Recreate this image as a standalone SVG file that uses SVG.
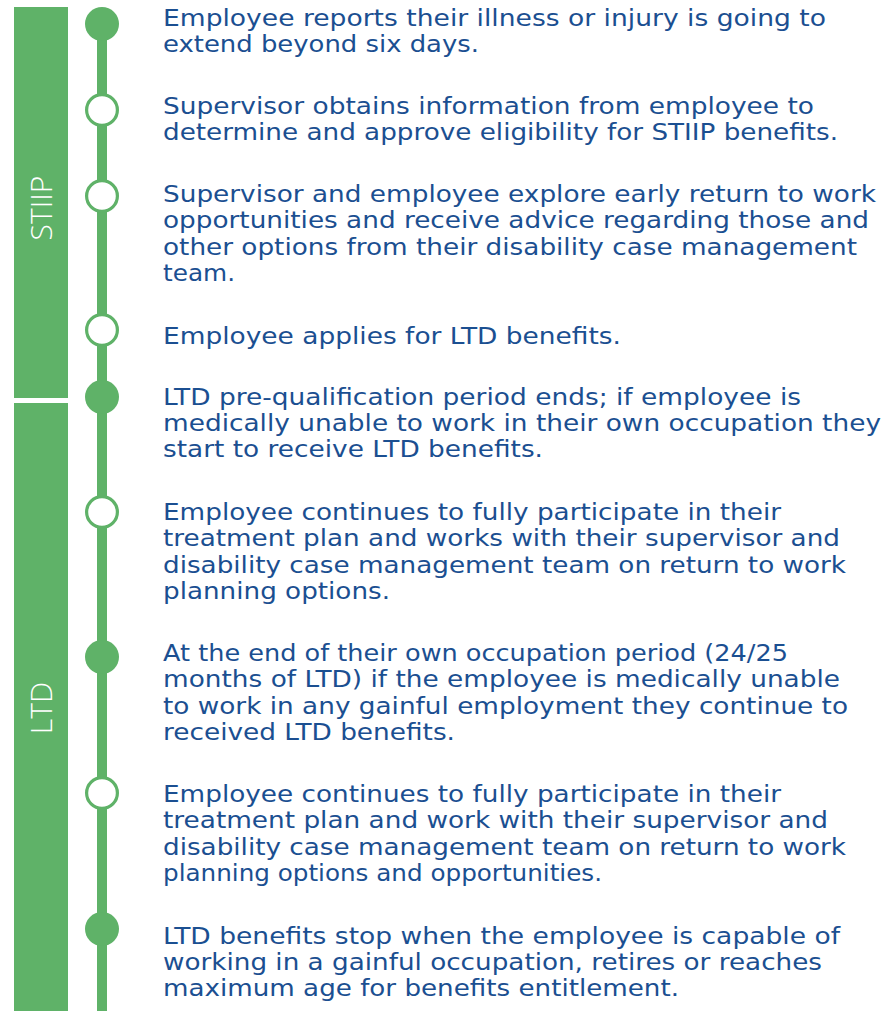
<svg xmlns="http://www.w3.org/2000/svg" width="886" height="1011" viewBox="0 0 886 1011">
<style>
.bar{fill:#5fb268}
.phase{font-family:"Open Sans","Liberation Sans",sans-serif;font-size:30px;font-weight:300;fill:#ffffff;text-anchor:middle}
.dot{fill:#5fb268}
.ring{fill:#ffffff;stroke:#5fb268;stroke-width:3.2}
.t{font-family:"DejaVu Sans","Liberation Sans",sans-serif;font-size:23px;fill:#1b4f91}
.spine{stroke:#5fb268;stroke-width:10;fill:none}
</style>
<rect width="886" height="1011" fill="#ffffff"/>
<g id="phase-stiip">
<rect class="bar" x="14" y="7" width="54" height="391"/>
<text class="phase" transform="translate(52,208) rotate(-90)">STIIP</text>
</g>
<g id="phase-ltd">
<rect class="bar" x="14" y="403" width="54" height="608"/>
<text class="phase" transform="translate(52,708) rotate(-90)">LTD</text>
</g>
<g id="connectors">
<line class="spine" x1="102" y1="20" x2="102" y2="1011"/>
</g>
<g id="step1">
<circle class="dot" cx="102" cy="24" r="17"/>
<text class="t" x="163" y="26" textLength="663" lengthAdjust="spacingAndGlyphs">Employee  reports their illness or injury is going to</text>
<text class="t" x="163" y="52" textLength="316" lengthAdjust="spacingAndGlyphs">extend beyond six days.</text>
</g>
<g id="step2">
<circle class="ring" cx="102" cy="110" r="15.4"/>
<text class="t" x="163" y="114" textLength="651" lengthAdjust="spacingAndGlyphs">Supervisor obtains information from employee to</text>
<text class="t" x="163" y="140" textLength="675" lengthAdjust="spacingAndGlyphs">determine and approve eligibility for STIIP benefits.</text>
</g>
<g id="step3">
<circle class="ring" cx="102" cy="196" r="15.4"/>
<text class="t" x="163" y="202" textLength="713" lengthAdjust="spacingAndGlyphs">Supervisor and employee explore early return to work</text>
<text class="t" x="163" y="228" textLength="706" lengthAdjust="spacingAndGlyphs">opportunities and receive advice regarding those and</text>
<text class="t" x="163" y="255" textLength="694" lengthAdjust="spacingAndGlyphs">other options from their disability case management</text>
<text class="t" x="163" y="281" textLength="72" lengthAdjust="spacingAndGlyphs">team.</text>
</g>
<g id="step4">
<circle class="ring" cx="102" cy="330" r="15.4"/>
<text class="t" x="163" y="344" textLength="458" lengthAdjust="spacingAndGlyphs">Employee applies for LTD benefits.</text>
</g>
<g id="step5">
<circle class="dot" cx="102" cy="397" r="17"/>
<text class="t" x="163" y="405" textLength="638" lengthAdjust="spacingAndGlyphs">LTD pre-qualification period ends; if employee is</text>
<text class="t" x="163" y="431" textLength="718" lengthAdjust="spacingAndGlyphs">medically unable to work in their own occupation they</text>
<text class="t" x="163" y="457" textLength="380" lengthAdjust="spacingAndGlyphs">start to receive LTD benefits.</text>
</g>
<g id="step6">
<circle class="ring" cx="102" cy="512" r="15.4"/>
<text class="t" x="163" y="520" textLength="618" lengthAdjust="spacingAndGlyphs">Employee continues to fully participate in their</text>
<text class="t" x="163" y="546" textLength="677" lengthAdjust="spacingAndGlyphs">treatment plan and works with their supervisor and</text>
<text class="t" x="163" y="573" textLength="683" lengthAdjust="spacingAndGlyphs">disability case management team on return to work</text>
<text class="t" x="163" y="599" textLength="227" lengthAdjust="spacingAndGlyphs">planning options.</text>
</g>
<g id="step7">
<circle class="dot" cx="102" cy="657" r="17"/>
<text class="t" x="163" y="661" textLength="625" lengthAdjust="spacingAndGlyphs">At the end of their own occupation period (24/25</text>
<text class="t" x="163" y="687" textLength="677" lengthAdjust="spacingAndGlyphs">months of LTD) if the employee is medically unable</text>
<text class="t" x="163" y="714" textLength="685" lengthAdjust="spacingAndGlyphs">to work in any gainful employment they continue to</text>
<text class="t" x="163" y="740" textLength="292" lengthAdjust="spacingAndGlyphs">received LTD benefits.</text>
</g>
<g id="step8">
<circle class="ring" cx="102" cy="793" r="15.4"/>
<text class="t" x="163" y="802" textLength="618" lengthAdjust="spacingAndGlyphs">Employee continues to fully participate in their</text>
<text class="t" x="163" y="828" textLength="665" lengthAdjust="spacingAndGlyphs">treatment plan and work with their supervisor and</text>
<text class="t" x="163" y="855" textLength="683" lengthAdjust="spacingAndGlyphs">disability case management team on return to work</text>
<text class="t" x="163" y="881" textLength="439" lengthAdjust="spacingAndGlyphs">planning options and opportunities.</text>
</g>
<g id="step9">
<circle class="dot" cx="102" cy="929" r="17"/>
<text class="t" x="163" y="944" textLength="677" lengthAdjust="spacingAndGlyphs">LTD benefits stop when the employee is capable of</text>
<text class="t" x="163" y="970" textLength="659" lengthAdjust="spacingAndGlyphs">working in a gainful occupation, retires or reaches</text>
<text class="t" x="163" y="996" textLength="516" lengthAdjust="spacingAndGlyphs">maximum age for benefits entitlement.</text>
</g>
</svg>
